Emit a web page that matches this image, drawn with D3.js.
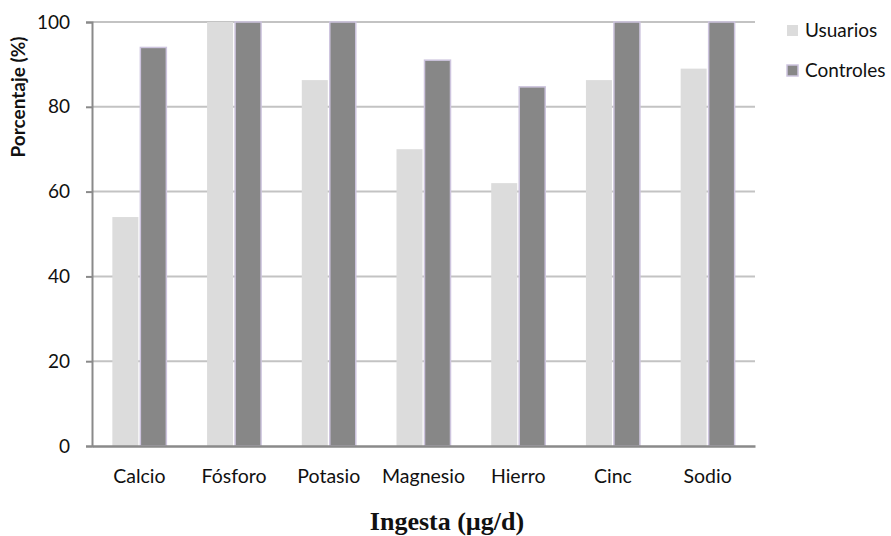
<!DOCTYPE html>
<html><head><meta charset="utf-8">
<script src="https://cdn.jsdelivr.net/npm/d3@7"></script>
<style>body{margin:0;background:#fff}</style>
</head><body><svg id="c" width="891" height="536"></svg>
<script>
const categories = ["Calcio","Fósforo","Potasio","Magnesio","Hierro","Cinc","Sodio"];
const usuarios = [54, 100, 86.3, 70, 62, 86.3, 89];
const controles = [94, 100, 100, 91, 84.7, 100, 100];
const seriesNames = ["Usuarios","Controles"];
const yTicks = [0,20,40,60,80,100];

const svg = d3.select("#c");
const m = {l:92, r:136, t:22, b:90};
const W = 891, H = 536;
const x = d3.scaleBand().domain(categories).range([m.l, W-m.r]);
const y = d3.scaleLinear().domain([0,100]).range([H-m.b, m.t]);
const colors = ["#dcdcdc","#878787"];
const strokes = ["none","#cdc4de"];
const sans = "Lato, 'Open Sans', sans-serif";

// gridlines
svg.append("g").selectAll("line").data(yTicks.slice(1)).join("line")
  .attr("x1", m.l).attr("x2", W-m.r).attr("y1", d=>y(d)).attr("y2", d=>y(d))
  .attr("stroke","#c3c3c3").attr("stroke-width",2);

const bw = 26, gap = 2;
const data = [usuarios, controles];
data.forEach((vals, si) => {
  svg.append("g").selectAll("rect").data(categories).join("rect")
    .attr("x", (c)=> x(c) + x.bandwidth()/2 - bw - gap/2 + si*(bw+gap))
    .attr("y", (c,i)=> y(vals[i]))
    .attr("width", bw)
    .attr("height", (c,i)=> y(0)-y(vals[i]))
    .attr("fill", colors[si])
    .attr("stroke", strokes[si]).attr("stroke-width", 1.5);
});

// axes
const yAxis = d3.axisLeft(y).tickValues(yTicks).tickSize(6).tickPadding(16);
const gy = svg.append("g").attr("transform",`translate(${m.l},0)`).call(yAxis);
gy.attr("font-size",null).attr("font-family",null);
gy.select(".domain").attr("stroke","#8a8a8a").attr("stroke-width",2);
gy.selectAll(".tick line").attr("stroke","#8a8a8a").attr("stroke-width",2);
gy.selectAll("text").attr("font-family",sans).attr("font-size",19).attr("fill","#111");

const xAxis = d3.axisBottom(x).tickSize(0).tickPadding(23);
const gx = svg.append("g").attr("transform",`translate(0,${y(0)})`).call(xAxis);
gx.attr("font-size",null).attr("font-family",null);
gx.select(".domain").attr("stroke","#8a8a8a").attr("stroke-width",2.5);
gx.selectAll("text").attr("font-family",sans).attr("font-size",19.5).attr("fill","#111");

// axis titles
svg.append("text").attr("transform","translate(25,97) rotate(-90)")
  .attr("text-anchor","middle").attr("font-family",sans)
  .attr("font-weight","bold").attr("font-size",19).attr("fill","#111").text("Porcentaje (%)");
svg.append("text").attr("x",447).attr("y",530).attr("text-anchor","middle")
  .attr("font-family","'Liberation Serif', 'Times New Roman', serif")
  .attr("font-weight","bold").attr("font-size",26).attr("fill","#111").text("Ingesta (µg/d)");

// legend
const lg = svg.append("g");
seriesNames.forEach((s,i)=>{
  const yy = 25 + i*40;
  lg.append("rect").attr("x",787).attr("y",yy).attr("width",11).attr("height",11)
    .attr("fill",colors[i]).attr("stroke",strokes[i]).attr("stroke-width",1.5);
  lg.append("text").attr("x",805).attr("y",yy+12).attr("font-family",sans)
    .attr("font-size",19).attr("fill","#111").text(s);
});
</script></body></html>
